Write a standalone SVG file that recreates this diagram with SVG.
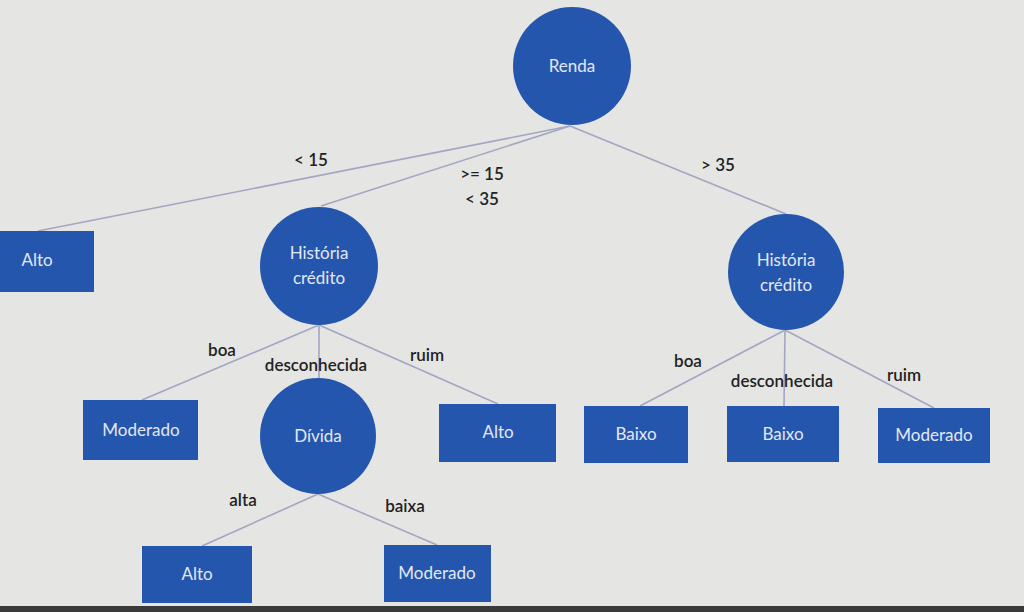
<svg xmlns="http://www.w3.org/2000/svg" width="1024" height="612" viewBox="0 0 1024 612">
<style>
.n{fill:#2556ad}
.t{fill:#e2e8f3;font-family:Lato,"Open Sans",sans-serif;font-size:17px;text-anchor:middle;dominant-baseline:middle}
.l{fill:#222;font-family:Lato,"Open Sans",sans-serif;font-size:17px;font-weight:600;text-anchor:middle;dominant-baseline:middle}
.e{stroke:#a3a6c2;stroke-width:1.6;fill:none}
</style>
<rect width="1024" height="612" fill="#e5e5e3"/>
<rect x="0" y="606" width="1024" height="6" fill="#3a3a3a"/>
<g id="connectors">
<line class="e" x1="570" y1="126" x2="38" y2="231"/>
<line class="e" x1="570" y1="126" x2="321" y2="206"/>
<line class="e" x1="570" y1="126" x2="786" y2="214"/>
<line class="e" x1="319" y1="325" x2="142" y2="400"/>
<line class="e" x1="319" y1="325" x2="319" y2="378"/>
<line class="e" x1="319" y1="325" x2="498" y2="404"/>
<line class="e" x1="785" y1="330" x2="640" y2="406"/>
<line class="e" x1="785" y1="330" x2="784" y2="406"/>
<line class="e" x1="785" y1="330" x2="934" y2="408"/>
<line class="e" x1="318" y1="494" x2="202" y2="546"/>
<line class="e" x1="318" y1="494" x2="437" y2="545"/>
</g>
<g id="labels">
<text class="l" x="311" y="162">&lt; 15</text>
<text class="l" x="482" y="176">&gt;= 15</text>
<text class="l" x="482" y="201">&lt; 35</text>
<text class="l" x="718" y="167">&gt; 35</text>
<text class="l" x="222" y="352">boa</text>
<text class="l" x="316" y="367">desconhecida</text>
<text class="l" x="427" y="357">ruim</text>
<text class="l" x="688" y="363">boa</text>
<text class="l" x="782" y="383">desconhecida</text>
<text class="l" x="904" y="377">ruim</text>
<text class="l" x="243" y="502">alta</text>
<text class="l" x="405" y="508">baixa</text>
</g>
<g id="renda"><circle class="n" cx="572" cy="66" r="59"/><text class="t" x="572" y="68">Renda</text></g>
<g id="alto1"><rect class="n" x="0" y="231" width="94" height="61"/><text class="t" x="37" y="262">Alto</text></g>
<g id="historia1"><circle class="n" cx="319" cy="266" r="59"/><text class="t" x="319" y="255">História</text><text class="t" x="319" y="280">crédito</text></g>
<g id="historia2"><circle class="n" cx="786" cy="272" r="58"/><text class="t" x="786" y="262">História</text><text class="t" x="786" y="287">crédito</text></g>
<g id="moderado1"><rect class="n" x="83" y="400" width="115" height="60"/><text class="t" x="141" y="432">Moderado</text></g>
<g id="divida"><circle class="n" cx="318" cy="436" r="58"/><text class="t" x="318" y="438">Dívida</text></g>
<g id="alto2"><rect class="n" x="439" y="404" width="117" height="58"/><text class="t" x="498" y="434">Alto</text></g>
<g id="baixo1"><rect class="n" x="584" y="406" width="104" height="57"/><text class="t" x="636" y="436">Baixo</text></g>
<g id="baixo2"><rect class="n" x="727" y="406" width="112" height="56"/><text class="t" x="783" y="436">Baixo</text></g>
<g id="moderado2"><rect class="n" x="878" y="408" width="112" height="55"/><text class="t" x="934" y="437">Moderado</text></g>
<g id="alto3"><rect class="n" x="142" y="546" width="110" height="57"/><text class="t" x="197" y="576">Alto</text></g>
<g id="moderado3"><rect class="n" x="384" y="545" width="107" height="57"/><text class="t" x="437" y="575">Moderado</text></g>
</svg>
